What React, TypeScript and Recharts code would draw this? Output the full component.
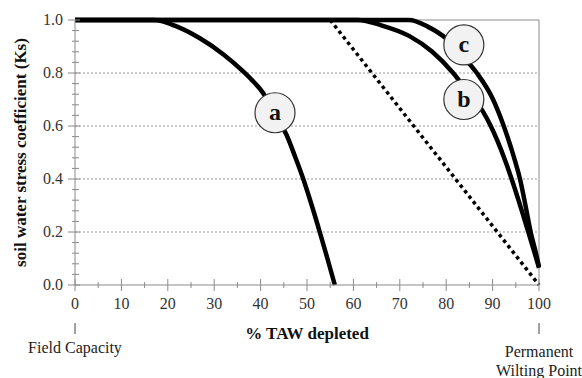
import { LineChart, Line, XAxis, YAxis, ReferenceLine, ReferenceDot, Label } from "recharts";

// % TAW depleted vs Ks
const curveA = [
  { x: 0, y: 1 }, { x: 17, y: 1 }, { x: 22, y: 0.975 }, { x: 27, y: 0.93 },
  { x: 32, y: 0.87 }, { x: 36, y: 0.81 }, { x: 38.1, y: 0.774 }, { x: 40.6, y: 0.723 },
  { x: 43, y: 0.645 }, { x: 45.6, y: 0.566 }, { x: 47.4, y: 0.486 }, { x: 49.2, y: 0.4 },
  { x: 51, y: 0.302 }, { x: 52.8, y: 0.197 }, { x: 54.4, y: 0.1 }, { x: 56, y: 0 },
];
const curveB = [
  { x: 0, y: 1 }, { x: 61, y: 1 }, { x: 66, y: 0.98 }, { x: 72, y: 0.94 },
  { x: 77, y: 0.88 }, { x: 81.5, y: 0.8 }, { x: 85, y: 0.72 }, { x: 87.9, y: 0.655 },
  { x: 89.6, y: 0.6 }, { x: 92.7, y: 0.47 }, { x: 94.1, y: 0.4 }, { x: 96.3, y: 0.28 },
  { x: 97.7, y: 0.2 }, { x: 98.9, y: 0.13 }, { x: 100, y: 0.065 },
];
const curveC = [
  { x: 0, y: 1 }, { x: 72, y: 1 }, { x: 76, y: 0.975 }, { x: 80, y: 0.93 },
  { x: 83.5, y: 0.865 }, { x: 86.6, y: 0.8 }, { x: 90.1, y: 0.7 }, { x: 92.4, y: 0.6 },
  { x: 94.8, y: 0.47 }, { x: 95.9, y: 0.4 }, { x: 97.2, y: 0.29 }, { x: 98.2, y: 0.2 },
  { x: 99.2, y: 0.13 }, { x: 100, y: 0.07 },
];
const linearLine = [{ x: 55, y: 1 }, { x: 100, y: 0 }];

const curveLabels = [
  { name: "a", x: 43.1, y: 0.65 },
  { name: "b", x: 83.8, y: 0.7 },
  { name: "c", x: 83.8, y: 0.906 },
];

const xTicks = [0, 5, 10, 15, 20, 25, 30, 35, 40, 45, 50, 55, 60, 65, 70, 75, 80, 85, 90, 95, 100];
const yTicks = [0, 0.04, 0.08, 0.12, 0.16, 0.2, 0.24, 0.28, 0.32, 0.36, 0.4, 0.44, 0.48, 0.52,
  0.56, 0.6, 0.64, 0.68, 0.72, 0.76, 0.8, 0.84, 0.88, 0.92, 0.96, 1];
const gridValues = [0.2, 0.4, 0.6, 0.8];

const xTitle = "% TAW depleted";
const yTitle = "soil water stress coefficient (Ks)";
const leftNote = "Field Capacity";
const rightNote = ["Permanent", "Wilting Point"];

const FONT =
  "'Liberation Serif', 'Times New Roman', Tinos, 'Noto Serif', 'DejaVu Serif', FreeSerif, serif";
const AXIS = "#8a8a8a";

function YTick(props: any) {
  const { x, y, payload } = props;
  const v = payload.value;
  const major = Math.abs(v * 5 - Math.round(v * 5)) < 1e-6;
  return (
    <g>
      <line x1={major ? x - 7 : x - 3} x2={major ? x + 5 : x + 4} y1={y} y2={y} stroke={AXIS} />
      {major && (
        <text x={x - 12} y={y + 5} textAnchor="end" fontFamily={FONT} fontSize={16} fill="#333">
          {v.toFixed(1)}
        </text>
      )}
    </g>
  );
}

function XTick(props: any) {
  const { x, y, payload } = props;
  const v = payload.value;
  const major = v % 10 === 0;
  return (
    <g>
      <line x1={x} x2={x} y1={major ? y - 6 : y - 3} y2={major ? y + 6 : y + 3} stroke={AXIS} />
      {major && (
        <text x={x} y={y + 24} textAnchor="middle" fontFamily={FONT} fontSize={16} fill="#333">
          {v}
        </text>
      )}
    </g>
  );
}

function BottomNotes(props: any) {
  const { x, y, width } = props.viewBox;
  return (
    <g fontFamily={FONT} fill="#222">
      <text x={x + width / 2} y={y + 54} textAnchor="middle" fontSize={17} fontWeight="bold" fill="#111">
        {xTitle}
      </text>
      <line x1={x} x2={x} y1={y + 38} y2={y + 49} stroke="#444" />
      <line x1={x + width} x2={x + width} y1={y + 38} y2={y + 49} stroke="#444" />
      <text x={x} y={y + 68} textAnchor="middle" fontSize={16}>{leftNote}</text>
      <text x={x + width} y={y + 72} textAnchor="middle" fontSize={16}>{rightNote[0]}</text>
      <text x={x + width} y={y + 91} textAnchor="middle" fontSize={16}>{rightNote[1]}</text>
    </g>
  );
}

function SideTitle(props: any) {
  const { y, height } = props.viewBox;
  return (
    <text
      transform={`translate(20,${y + height / 2}) rotate(-90)`}
      textAnchor="middle"
      dominantBaseline="central"
      fontFamily={FONT}
      fontSize={17}
      fontWeight="bold"
      fill="#111"
    >
      {yTitle}
    </text>
  );
}

function labelShape(letter: string) {
  return (p: any) => (
    <g>
      <circle cx={p.cx} cy={p.cy} r={20} fill="#f2f2f2" stroke="#333" strokeWidth={1.2} />
      <text x={p.cx} y={p.cy + 7} textAnchor="middle" fontFamily={FONT} fontSize={24} fontWeight="bold" fill="#111">
        {letter}
      </text>
    </g>
  );
}

export default function App() {
  return (
    <div style={{ position: "absolute", left: 0, top: 0, background: "#fff", fontFamily: FONT }}>
      <LineChart width={582} height={378} margin={{ top: 20, right: 43, bottom: 0, left: 0 }}>
        <XAxis
          type="number"
          dataKey="x"
          domain={[0, 100]}
          ticks={xTicks}
          interval={0}
          tickSize={0}
          tickMargin={0}
          height={93}
          stroke={AXIS}
          tick={<XTick />}
        >
          <Label content={<BottomNotes />} />
        </XAxis>
        <YAxis
          type="number"
          dataKey="y"
          domain={[0, 1]}
          ticks={yTicks}
          interval={0}
          tickSize={0}
          tickMargin={0}
          width={75}
          stroke={AXIS}
          tick={<YTick />}
        >
          <Label content={<SideTitle />} />
        </YAxis>
        {gridValues.map((g) => (
          <ReferenceLine key={g} y={g} stroke="#999" strokeDasharray="2 2" />
        ))}
        <ReferenceLine y={1} stroke={AXIS} />
        <ReferenceLine x={100} stroke={AXIS} />
        <Line data={linearLine} dataKey="y" type="linear" stroke="#000" strokeWidth={3.5}
          strokeDasharray="3.5 3.5" dot={false} isAnimationActive={false} />
        <Line data={curveA} dataKey="y" type="monotone" stroke="#000" strokeWidth={4.5} dot={false} isAnimationActive={false} />
        <Line data={curveB} dataKey="y" type="monotone" stroke="#000" strokeWidth={4.5} dot={false} isAnimationActive={false} />
        <Line data={curveC} dataKey="y" type="monotone" stroke="#000" strokeWidth={4.5} dot={false} isAnimationActive={false} />
        {curveLabels.map((l) => (
          <ReferenceDot key={l.name} x={l.x} y={l.y} r={20} shape={labelShape(l.name)} />
        ))}
      </LineChart>
    </div>
  );
}
